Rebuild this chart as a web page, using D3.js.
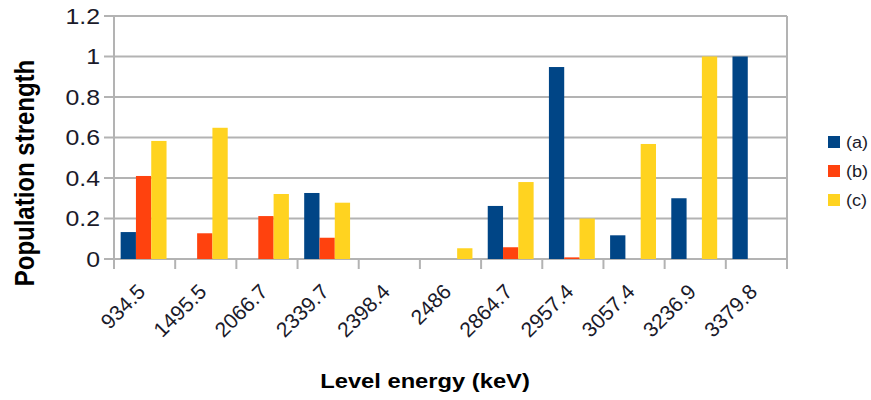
<!DOCTYPE html>
<html><head><meta charset="utf-8">
<script src="https://cdn.jsdelivr.net/npm/d3@7"></script>
<style>body{margin:0;background:#fff;} svg{display:block;font-family:"Liberation Sans",Arial,sans-serif;}</style>
</head><body>
<script>
const categories = ["934.5","1495.5","2066.7","2339.7","2398.4","2486","2864.7","2957.4","3057.4","3236.9","3379.8"];
const seriesA = [0.133, 0, 0, 0.326, 0, 0, 0.262, 0.948, 0.117, 0.30, 1.0];
const seriesB = [0.41, 0.127, 0.212, 0.105, 0, 0, 0.058, 0.008, 0, 0, 0];
const seriesC = [0.583, 0.648, 0.321, 0.278, 0, 0.053, 0.38, 0.20, 0.568, 1.0, 0];
const seriesNames = ["(a)","(b)","(c)"];
const colors = ["#004586","#ff420e","#ffd320"];
const yTicks = [0,0.2,0.4,0.6,0.8,1,1.2];

const W=871,H=400;
const m={left:114,right:84,top:16,bottom:141};
const SX=1.13;
const svg=d3.select("body").append("svg").attr("width",W).attr("height",H);
const x=d3.scaleBand().domain(categories).range([m.left,W-m.right]);
const y=d3.scaleLinear().domain([0,1.2]).range([H-m.bottom,m.top]);
const series=[seriesA,seriesB,seriesC];
const bw=x.bandwidth()/4;

// gridlines
svg.append("g").selectAll("line").data(yTicks).join("line")
  .attr("x1",m.left-10).attr("x2",W-m.right)
  .attr("y1",d=>y(d)).attr("y2",d=>y(d))
  .attr("stroke","#b3b3b3").attr("stroke-width",2);
// right border
svg.append("line").attr("x1",W-m.right).attr("x2",W-m.right).attr("y1",y(1.2)).attr("y2",y(0)+10)
  .attr("stroke","#b3b3b3").attr("stroke-width",2);
// left axis
svg.append("line").attr("x1",m.left).attr("x2",m.left).attr("y1",y(1.2)).attr("y2",y(0)+10)
  .attr("stroke","#b3b3b3").attr("stroke-width",2);
// x ticks
svg.append("g").selectAll("line").data(categories.slice(1)).join("line")
  .attr("x1",d=>x(d)).attr("x2",d=>x(d)).attr("y1",y(0)).attr("y2",y(0)+10)
  .attr("stroke","#b3b3b3").attr("stroke-width",2);

// bars
series.forEach((s,i)=>{
  svg.append("g").selectAll("rect").data(s.map((v,j)=>({v,c:categories[j]}))).join("rect")
    .attr("x",d=>x(d.c)+bw*0.5+bw*i-1).attr("width",bw)
    .attr("y",d=>y(d.v)).attr("height",d=>y(0)-y(d.v))
    .attr("fill",colors[i]);
});

// y labels
svg.append("g").selectAll("text").data(yTicks).join("text")
  .attr("transform",d=>`translate(${m.left-14},${y(d)}) scale(${SX},1)`)
  .attr("dy","0.35em")
  .attr("text-anchor","end").attr("font-size",22).attr("fill","#1a1a2a")
  .text(d=>d3.format("")(d));

// x labels
svg.append("g").selectAll("text").data(categories).join("text")
  .attr("transform",d=>`translate(${x(d)+x.bandwidth()/2+2},${y(0)+34}) rotate(-45)`)
  .attr("text-anchor","end").attr("font-size",21).attr("fill","#1a1a2a")
  .text(d=>d);

// axis titles
svg.append("text").attr("transform",`translate(425,388) scale(${SX},1)`)
  .attr("text-anchor","middle").attr("font-weight","bold").attr("font-size",21).attr("fill","#000")
  .text("Level energy (keV)");
svg.append("text").attr("transform",`translate(34,173) scale(${SX},1) rotate(-90)`)
  .attr("text-anchor","middle").attr("font-weight","bold").attr("font-size",24).attr("fill","#000")
  .text("Population strength");

// legend
const lg=svg.append("g").selectAll("g").data(seriesNames).join("g")
  .attr("transform",(d,i)=>`translate(828,${136+i*29})`);
lg.append("rect").attr("width",12).attr("height",12).attr("fill",(d,i)=>colors[i]);
lg.append("text").attr("transform",`translate(18,6) scale(${SX},1)`).attr("dy","0.36em")
  .attr("font-size",16).attr("fill","#1a1a2a").text(d=>d);
</script>
</body></html>
